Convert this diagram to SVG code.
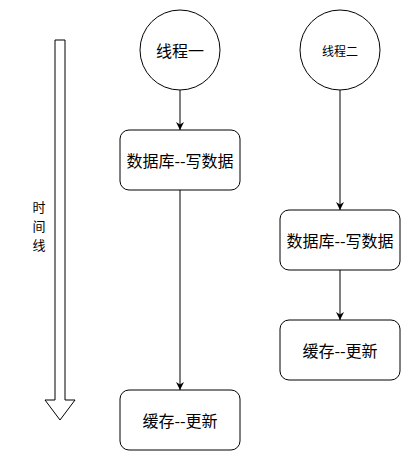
<svg xmlns="http://www.w3.org/2000/svg" width="411" height="461" viewBox="0 0 411 461">
<style>
.n{fill:#fff;stroke:#000;stroke-width:1}
.t{font-family:"Noto Sans CJK SC","Liberation Sans",sans-serif;fill:#000;text-anchor:middle;dominant-baseline:central}
.e{fill:none;stroke:#000;stroke-width:1}
</style>
<defs>
<marker id="a" viewBox="0 0 10 10" refX="10" refY="5" markerWidth="8" markerHeight="8" markerUnits="userSpaceOnUse" orient="auto">
<path d="M0,0 L10,5 L0,10 L3,5 Z" fill="#000"/>
</marker>
</defs>
<rect width="411" height="461" fill="#fff"/>
<g id="timeline">
<path class="n" d="M55,40 L65,40 L65,400 L75,400 L60,420 L45,400 L55,400 Z"/>
<text class="t" font-size="13" x="39" y="206">时</text>
<text class="t" font-size="13" x="39" y="225">间</text>
<text class="t" font-size="13" x="39" y="244">线</text>
</g>
<g id="connectors">
<line class="e" x1="180" y1="90" x2="180" y2="130" marker-end="url(#a)"/>
<line class="e" x1="180" y1="190" x2="180" y2="390" marker-end="url(#a)"/>
<line class="e" x1="340" y1="90" x2="340" y2="210" marker-end="url(#a)"/>
<line class="e" x1="340" y1="270" x2="340" y2="320" marker-end="url(#a)"/>
</g>
<g id="thread1">
<circle class="n" cx="180" cy="50" r="40"/>
<text class="t" font-size="16" x="180" y="50">线程一</text>
</g>
<g id="db1">
<rect class="n" x="120" y="130" width="120" height="60" rx="9"/>
<text class="t" font-size="16" x="180" y="160">数据库--写数据</text>
</g>
<g id="cache1">
<rect class="n" x="120" y="390" width="120" height="60" rx="9"/>
<text class="t" font-size="16" x="180" y="420">缓存--更新</text>
</g>
<g id="thread2">
<circle class="n" cx="340" cy="50" r="40"/>
<text class="t" font-size="12" x="340" y="50">线程二</text>
</g>
<g id="db2">
<rect class="n" x="280" y="210" width="120" height="60" rx="9"/>
<text class="t" font-size="16" x="340" y="240">数据库--写数据</text>
</g>
<g id="cache2">
<rect class="n" x="280" y="320" width="120" height="60" rx="9"/>
<text class="t" font-size="16" x="340" y="350">缓存--更新</text>
</g>
</svg>
